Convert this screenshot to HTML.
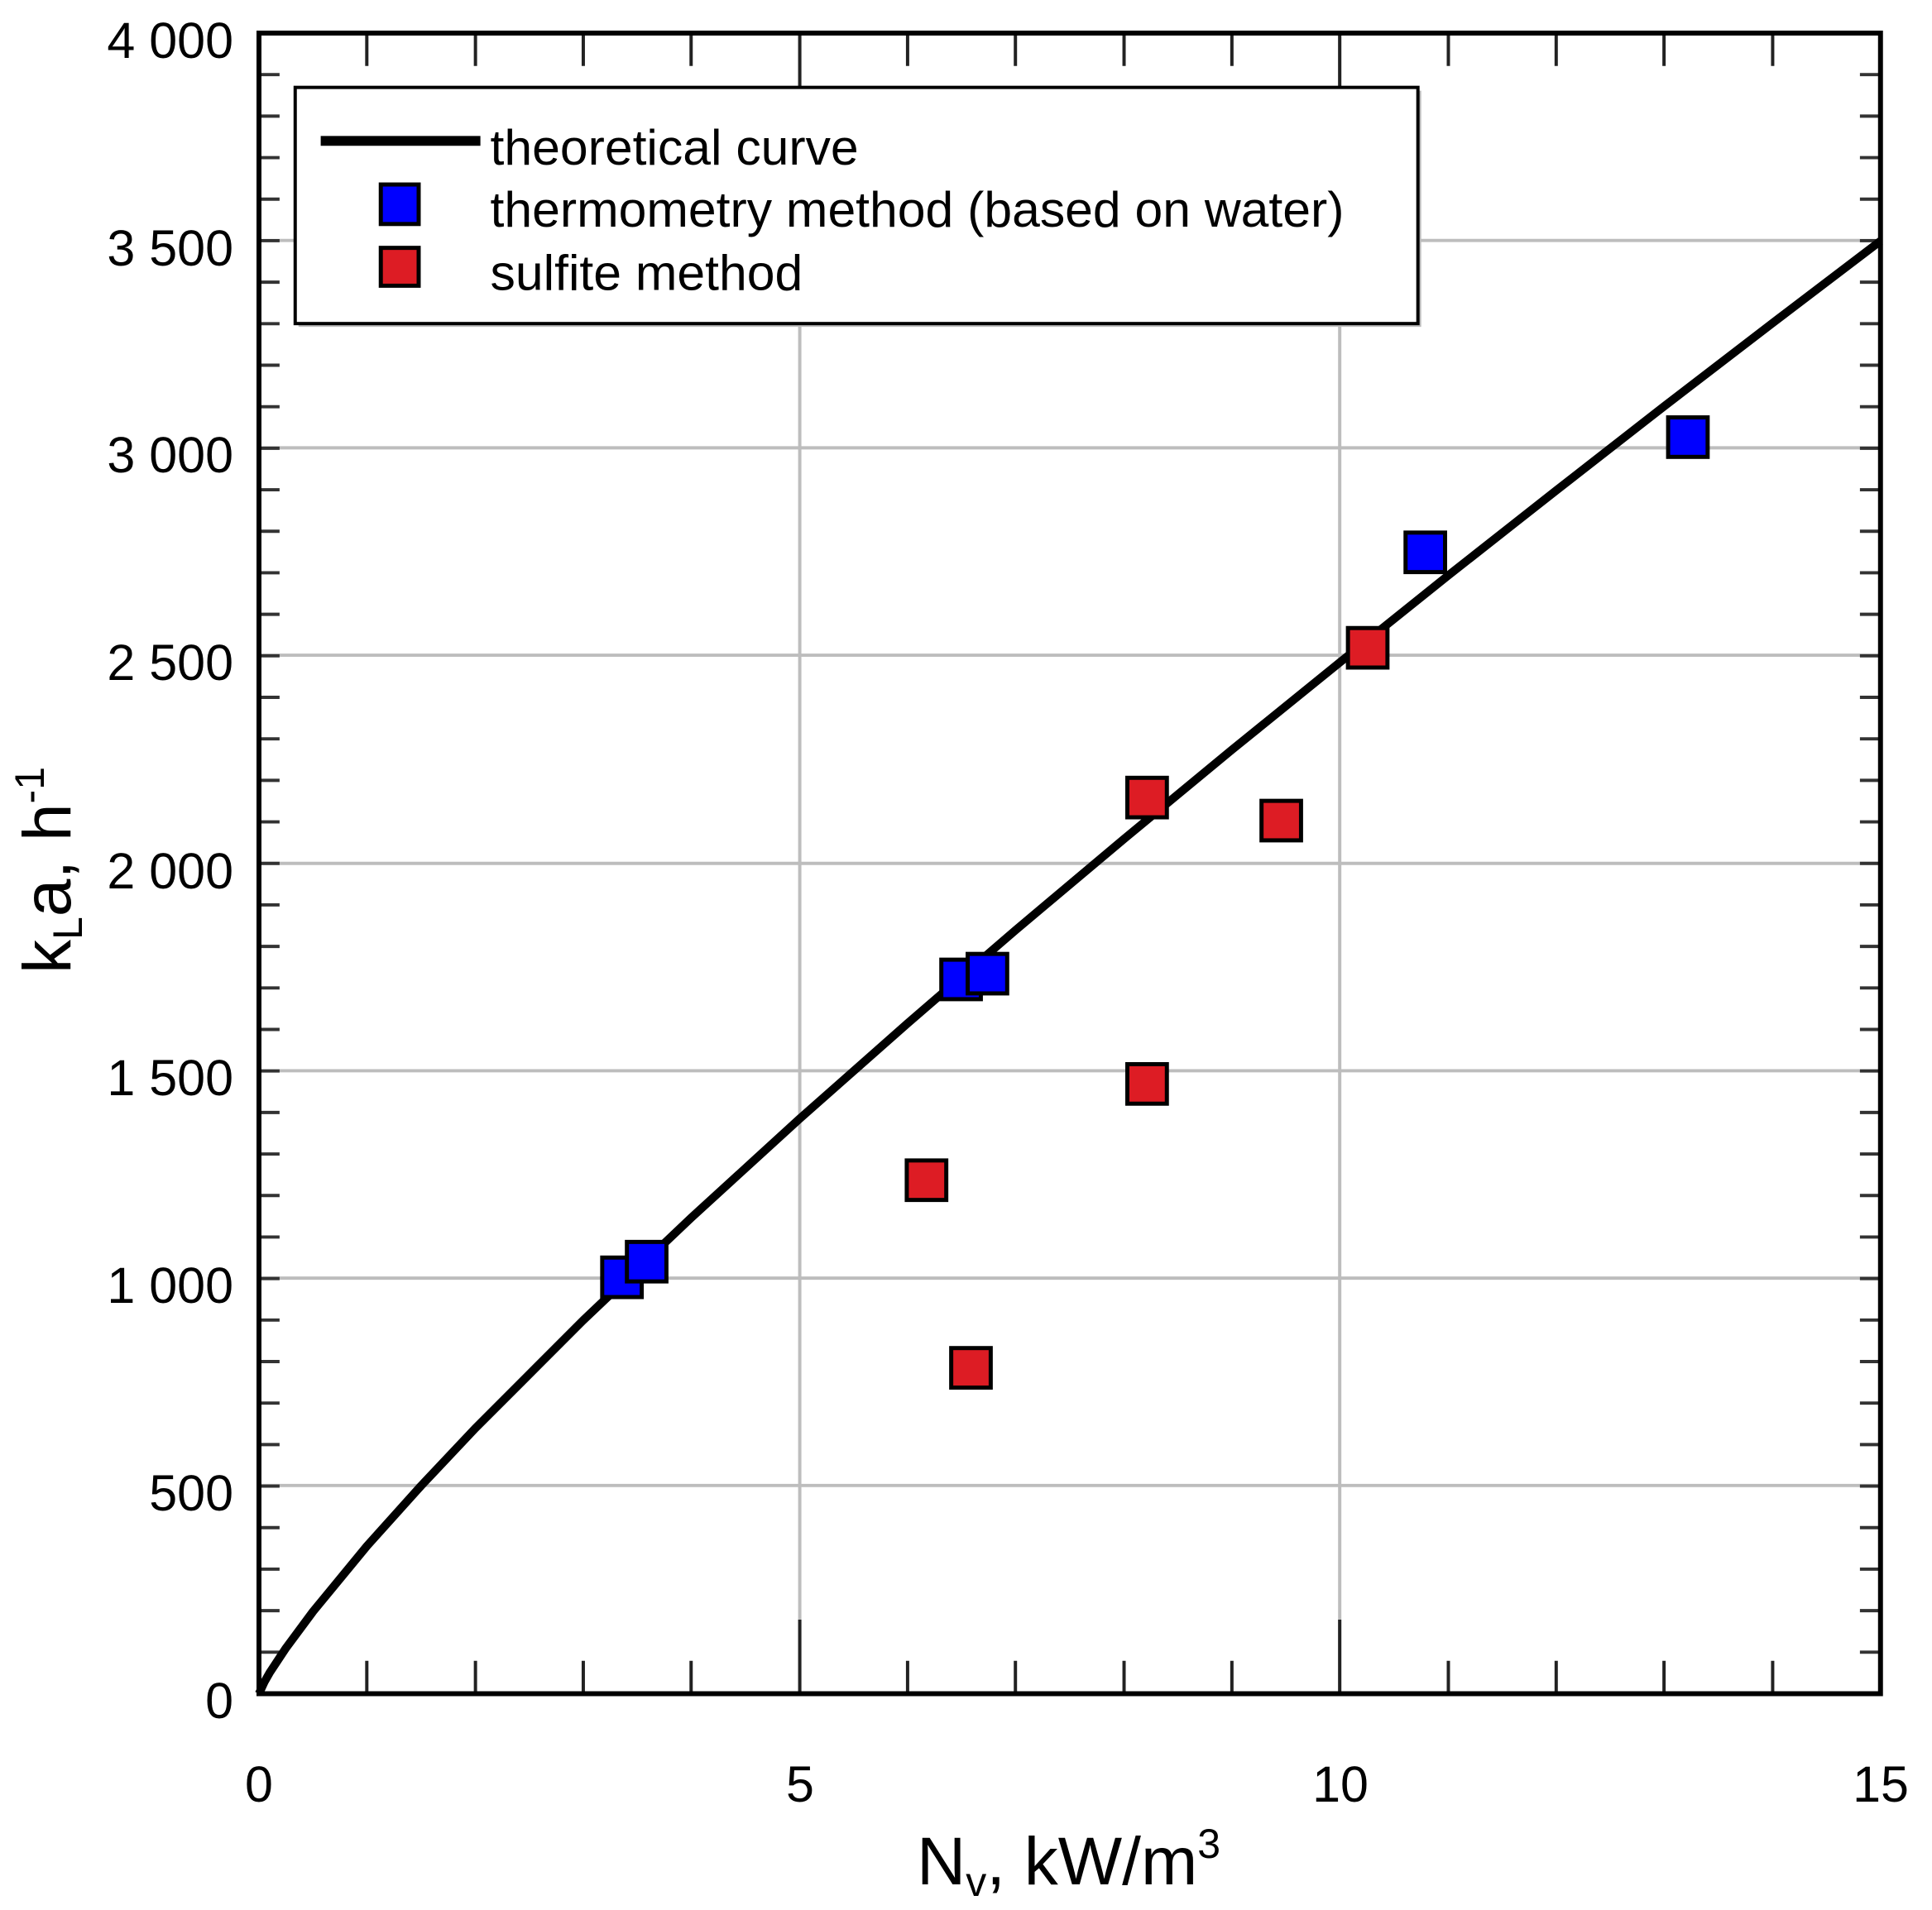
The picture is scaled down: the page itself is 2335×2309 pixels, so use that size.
<!DOCTYPE html>
<html><head><meta charset="utf-8"><style>
html,body{margin:0;padding:0;background:#fff;}
svg{display:block;}
text{font-family:"Liberation Sans",sans-serif;fill:#000;}
</style></head><body>
<svg width="2335" height="2309" viewBox="0 0 2335 2309" xmlns="http://www.w3.org/2000/svg">
<rect width="2335" height="2309" fill="#fff"/>
<g transform="translate(313,40) scale(0.9948) translate(-313,-40)">
<!-- grid -->
<g stroke="#bdbdbd" stroke-width="4">
<line x1="313" y1="292" x2="2283" y2="292"/>
<line x1="313" y1="544" x2="2283" y2="544"/>
<line x1="313" y1="796" x2="2283" y2="796"/>
<line x1="313" y1="1049" x2="2283" y2="1049"/>
<line x1="313" y1="1301" x2="2283" y2="1301"/>
<line x1="313" y1="1553" x2="2283" y2="1553"/>
<line x1="313" y1="1805" x2="2283" y2="1805"/>
<line x1="970" y1="40" x2="970" y2="2058"/>
<line x1="1626" y1="40" x2="1626" y2="2058"/>
</g>
<!-- minor ticks -->
<g stroke="#333" stroke-width="25" fill="none">
<line x1="325.5" y1="2058" x2="325.5" y2="40" stroke-dasharray="4 46.45" stroke-dashoffset="2"/>
<line x1="2270.5" y1="2058" x2="2270.5" y2="40" stroke-dasharray="4 46.45" stroke-dashoffset="2"/>
</g>
<g stroke="#222" stroke-width="4">
<path d="M444 2058v-40M576 2058v-40M707 2058v-40M838 2058v-40M970 2058v-90M1101 2058v-40M1232 2058v-40M1364 2058v-40M1495 2058v-40M1626 2058v-90M1758 2058v-40M1889 2058v-40M2020 2058v-40M2152 2058v-40"/>
<path d="M444 40v40M576 40v40M707 40v40M838 40v40M970 40v90M1101 40v40M1232 40v40M1364 40v40M1495 40v40M1626 40v90M1758 40v40M1889 40v40M2020 40v40M2152 40v40"/>
</g>
<!-- frame -->
<rect x="313" y="40" width="1970" height="2018" fill="none" stroke="#000" stroke-width="6"/>
<!-- curve -->
<polyline fill="none" stroke="#000" stroke-width="10" stroke-linejoin="round" points="313,2058 319.6,2043.7 326.1,2032.3 345.8,2002.5 378.7,1958.1 444.3,1878.4 510,1805.3 575.6,1735.7 707,1604.1 838.3,1479.5 969.7,1359.4 1101,1243.4 1232.3,1130 1363.7,1019.5 1495,911 1626.3,804.6 1757.7,699.2 1889,595.8 2020.3,493.4 2151.7,392.5 2283,292.6"/>
<g fill="#0000ff" stroke="#000" stroke-width="5">
<rect x="730" y="1528" width="48" height="48"/>
<rect x="760" y="1509" width="48" height="48"/>
<rect x="1142" y="1166" width="48" height="48"/>
<rect x="1174" y="1159" width="48" height="48"/>
<rect x="1706" y="647" width="48" height="48"/>
<rect x="2025" y="507" width="48" height="48"/>
</g>
<g fill="#dd1c24" stroke="#000" stroke-width="5">
<rect x="1100" y="1410" width="48" height="48"/>
<rect x="1154" y="1638" width="48" height="48"/>
<rect x="1368" y="1293" width="48" height="48"/>
<rect x="1368" y="945" width="48" height="48"/>
<rect x="1531" y="973" width="48" height="48"/>
<rect x="1636" y="763" width="48" height="48"/>
</g>
<!-- legend -->
<rect x="361" y="110" width="1364" height="287" fill="#bbb"/>
<rect x="357" y="106" width="1364" height="287" fill="#fff" stroke="#000" stroke-width="4"/>
<line x1="388" y1="171" x2="582" y2="171" stroke="#000" stroke-width="12"/>
<rect x="461" y="224" width="46" height="48" fill="#0000ff" stroke="#000" stroke-width="5"/>
<rect x="461" y="301" width="46" height="46" fill="#dd1c24" stroke="#000" stroke-width="5"/>
<g font-size="61">
<text x="594" y="200">theoretical curve</text>
<text x="594" y="275">thermometry method (based on water)</text>
<text x="594" y="352">sulfite method</text>
</g>
</g>
<!-- y tick labels -->
<g font-size="61" text-anchor="end">
<text x="282" y="70">4 000</text>
<text x="282" y="321">3 500</text>
<text x="282" y="571">3 000</text>
<text x="282" y="822">2 500</text>
<text x="282" y="1074">2 000</text>
<text x="282" y="1324">1 500</text>
<text x="282" y="1575">1 000</text>
<text x="282" y="1826">500</text>
<text x="282" y="2077">0</text>
</g>
<g font-size="61" text-anchor="middle">
<text x="313" y="2178">0</text>
<text x="967" y="2178">5</text>
<text x="1620" y="2178">10</text>
<text x="2273" y="2178">15</text>
</g>
<!-- axis titles -->
<text x="1108" y="2278" font-size="82">N<tspan font-size="50" dy="14">v</tspan><tspan dy="-14">, kW/m</tspan><tspan font-size="50" dy="-32">3</tspan></text>
<text transform="translate(85,1052) rotate(-90)" text-anchor="middle" font-size="82">k<tspan font-size="50" dy="14">L</tspan><tspan dy="-14">a, h</tspan><tspan font-size="50" dy="-32">-1</tspan></text>
</svg>
</body></html>
